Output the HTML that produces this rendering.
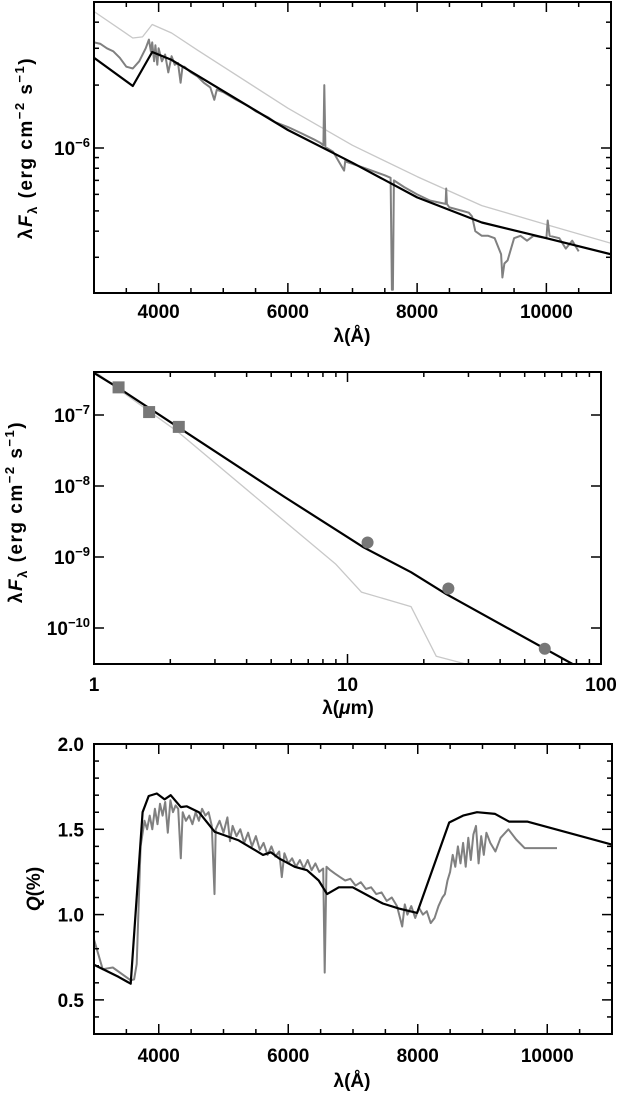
<!DOCTYPE html>
<html><head><meta charset="utf-8"><style>
body{margin:0;background:#fff;}
svg{display:block;font-family:"Liberation Sans",Arial,sans-serif;}
.tl{font-size:19px;font-weight:bold;}
.at{font-size:19px;font-weight:bold;}
</style></head><body>
<svg id="fig" width="618" height="1094" viewBox="0 0 618 1094"></svg>
<script>
// ---------- Panel 1 data (flux in units of 1e-6) ----------
const p1ModelWl=[3000,3600,3900,4200,6000,7000,8000,9000,10000,11000];
const p1ModelF=[2.7,1.98,2.88,2.64,1.22,0.85,0.58,0.44,0.37,0.31];
const p1UpperWl=[3000,3600,3750,3900,4200,4600,6000,7000,8000,9000,10000,11000];
const p1UpperF=[4.5,3.36,3.4,3.9,3.55,2.94,1.55,1.03,0.73,0.53,0.43,0.35];
const p1ObsWl=[3000,3100,3200,3300,3400,3500,3600,3700,3800,3850,3880,3900,3930,3950,3980,4000,4050,4100,4150,4200,4250,4300,4340,4370,4400,4500,4600,4700,4800,4861,4900,5000,5200,5400,5500,5700,5800,6000,6200,6400,6500,6550,6563,6580,6700,6870,6890,6900,7200,7500,7590,7610,7625,7640,7800,8000,8200,8440,8450,8460,8500,8700,8800,8850,8900,9000,9100,9200,9300,9320,9350,9400,9500,9600,9700,9800,10000,10020,10050,10200,10300,10400,10500];
const p1ObsF=[3.2,3.15,3.0,2.9,2.7,2.45,2.4,2.6,3.0,3.3,2.9,3.2,2.6,3.1,2.5,3.0,2.6,2.8,2.3,2.75,2.5,2.55,2.05,2.45,2.45,2.3,2.2,2.05,1.95,1.7,1.9,1.85,1.7,1.58,1.5,1.4,1.33,1.26,1.18,1.1,1.06,1.03,2.0,1.01,0.96,0.78,0.88,0.86,0.8,0.74,0.72,0.21,0.21,0.7,0.65,0.6,0.56,0.54,0.64,0.54,0.52,0.5,0.49,0.47,0.40,0.38,0.38,0.37,0.31,0.24,0.28,0.29,0.37,0.38,0.36,0.38,0.37,0.45,0.38,0.37,0.33,0.36,0.32];
// ---------- Panel 2 data ----------
const p2ModelLam=[1,1.25,2.14,5.65,11.56,17.8,24.5,77.3];
const p2ModelF=[3.9e-7,2.4e-7,6.8e-8,7.0e-9,1.37e-9,6.1e-10,3.0e-10,3.1e-11];
const p2StarLam=[1,1.25,2.14,9.0,11.35,17.8,22.4,29.4];
const p2StarF=[4.2e-7,2.3e-7,5.8e-8,7.9e-10,3.2e-10,2.0e-10,4.0e-11,3.1e-11];
const p2SqLam=[1.25,1.65,2.16];
const p2SqF=[2.45e-7,1.1e-7,6.8e-8];
const p2CircLam=[12,25,60];
const p2CircF=[1.6e-9,3.6e-10,5.1e-11];
// ---------- Panel 3 data (Q %) ----------
const p3ModelWl=[2980,3380,3567,3750,3845,3970,4090,4185,4340,4430,4620,4865,5235,5610,5730,5855,6100,6290,6470,6600,6780,6995,7460,7710,7990,8485,8700,8915,9195,9410,9690,11050];
const p3ModelQ=[0.71,0.635,0.595,1.6,1.695,1.71,1.675,1.70,1.63,1.635,1.6,1.485,1.435,1.35,1.365,1.33,1.28,1.26,1.2,1.12,1.16,1.16,1.065,1.035,1.01,1.54,1.58,1.6,1.59,1.545,1.545,1.405];
const p3ObsWl=[2980,3135,3290,3567,3620,3660,3720,3780,3820,3860,3900,3940,3980,4020,4060,4100,4140,4180,4220,4260,4300,4340,4370,4420,4470,4520,4570,4620,4670,4720,4770,4820,4861,4880,4940,5000,5060,5100,5140,5200,5260,5320,5380,5440,5500,5560,5620,5680,5740,5800,5860,5900,5940,6000,6060,6120,6180,6240,6300,6360,6420,6480,6540,6563,6590,6650,6720,6800,6880,6960,7040,7120,7200,7280,7360,7440,7520,7600,7680,7760,7800,7840,7900,7960,8020,8080,8140,8200,8260,8320,8380,8420,8460,8500,8540,8580,8620,8660,8700,8740,8780,8820,8860,8900,8940,8980,9020,9060,9120,9200,9280,9400,9520,9650,10150];
const p3ObsQ=[0.88,0.68,0.69,0.615,0.62,0.71,1.4,1.55,1.5,1.58,1.5,1.62,1.53,1.65,1.58,1.66,1.48,1.67,1.6,1.64,1.62,1.33,1.6,1.55,1.58,1.53,1.6,1.55,1.62,1.58,1.6,1.52,1.12,1.5,1.55,1.48,1.57,1.43,1.52,1.46,1.5,1.42,1.48,1.4,1.46,1.38,1.42,1.35,1.4,1.34,1.37,1.22,1.36,1.3,1.33,1.28,1.32,1.27,1.32,1.26,1.3,1.25,1.27,0.66,1.28,1.26,1.24,1.22,1.2,1.21,1.17,1.19,1.15,1.16,1.12,1.13,1.08,1.1,1.05,0.93,1.06,1.0,1.05,0.98,1.04,1.0,1.02,0.95,0.98,1.05,1.1,1.12,1.2,1.25,1.35,1.28,1.4,1.3,1.42,1.28,1.45,1.32,1.47,1.52,1.3,1.46,1.35,1.48,1.42,1.37,1.45,1.5,1.44,1.39,1.39];

const NS='http://www.w3.org/2000/svg';
const svg=document.getElementById('fig');
function mk(tag,attrs,parent){const e=document.createElementNS(NS,tag);for(const k in attrs)e.setAttribute(k,attrs[k]);(parent||svg).appendChild(e);return e;}

function panel(name){
  const g=mk('g',{});
  
  
  return g;
}
function line(g,xa,ya,xs,ys,color,w,name){
  let d='';
  for(let i=0;i<xa.length;i++){d+=(i?'L':'M')+xs(xa[i]).toFixed(1)+','+ys(ya[i]).toFixed(1);}
  const p=mk('path',{d:d,fill:'none',stroke:color,'stroke-width':w,'stroke-linejoin':'round'},g);
  
  
  return p;
}
function clip(id,L,T,R,B){const c=mk('clipPath',{id:id});mk('rect',{x:L,y:T,width:R-L,height:B-T},c);}
function tick(g,x1,y1,x2,y2){mk('line',{x1:x1,y1:y1,x2:x2,y2:y2,stroke:'#000','stroke-width':1.5},g);}
function text(g,x,y,s,cls,anchor,name){const t=mk('text',{x:x,y:y,'class':cls,'text-anchor':anchor||'middle'},g);t.innerHTML=s;return t;}
const YT='λ<tspan font-style="italic">F</tspan><tspan dy="5" font-size="13">λ</tspan><tspan dy="-5"> (erg cm</tspan><tspan dy="-8" font-size="13">−2</tspan><tspan dy="8"> s</tspan><tspan dy="-8" font-size="13">−1</tspan><tspan dy="8">)</tspan>';

// ===== Panel 1 =====
(function(){
  const L=94,R=611,T=2,B=293;
  const xs=v=>L+(v-3000)/8000*(R-L);
  const ys=v=>148-209*Math.log10(v);
  const g=panel('spectrum-panel');
  clip('c1',L,T,R,B);
  const d=mk('g',{'clip-path':'url(#c1)'},g);
  line(d,p1UpperWl,p1UpperF,xs,ys,'#c8c8c8',1.3,'unreddened-model-line');
  line(d,p1ObsWl,p1ObsF,xs,ys,'#808080',2,'observed-spectrum-line');
  line(d,p1ModelWl,p1ModelF,xs,ys,'#000',2.2,'model-flux-line');
  for(let v=3000;v<=11000;v+=500){const x=xs(v);const big=v%2000===0;tick(g,x,B,x,B-(big?10:5));tick(g,x,T,x,T+(big?10:5));}
  [4000,6000,8000,10000].forEach(v=>text(g,xs(v),318,v,'tl','middle','x-tick-label'));
  [0.2,0.3,0.4,0.5,0.6,0.7,0.8,0.9,1,2,3,4,5].forEach(v=>{const y=ys(v);if(y<T||y>B)return;const big=v===1;tick(g,L,y,L+(big?10:5),y);tick(g,R,y,R-(big?10:5),y);});
  text(g,L-4,155,'10<tspan dy="-8" font-size="13">−6</tspan>','tl','end','y-tick-label');
  mk('rect',{x:L,y:T,width:R-L,height:B-T,fill:'none',stroke:'#000','stroke-width':2},g);
  text(g,352,342,'λ(Å)','at','middle','x-axis-title');
  const yt=text(g,0,0,YT,'at','middle','y-axis-title');
  yt.setAttribute('letter-spacing','1.5');
  yt.setAttribute('transform','translate(32,148) rotate(-90)');
})();

// ===== Panel 2 =====
(function(){
  const L=94,R=601,T=372,B=664;
  const xs=v=>L+Math.log10(v)/2*(R-L);
  const ys=v=>415-71*(Math.log10(v)+7);
  const g=panel('sed-panel');
  clip('c2',L,T,R,B);
  const d=mk('g',{'clip-path':'url(#c2)'},g);
  line(d,p2StarLam,p2StarF,xs,ys,'#c8c8c8',1.3,'stellar-photosphere-line');
  line(d,p2ModelLam,p2ModelF,xs,ys,'#000',2.2,'sed-model-line');
  p2SqLam.forEach((v,i)=>{const r=mk('rect',{x:xs(v)-6,y:ys(p2SqF[i])-6,width:12,height:12,fill:'#777'},d);
    
    });
  p2CircLam.forEach((v,i)=>{const c=mk('circle',{cx:xs(v),cy:ys(p2CircF[i]),r:6,fill:'#777'},d);
    
    });
  for(let dec=0;dec<2;dec++)for(let m=1;m<=9;m++){const v=m*Math.pow(10,dec);const x=xs(v);const big=m===1;tick(g,x,B,x,B-(big?10:5));tick(g,x,T,x,T+(big?10:5));}
  tick(g,R,B,R,B-10);tick(g,R,T,R,T+10);
  [[1,'1'],[10,'10'],[100,'100']].forEach(a=>text(g,xs(a[0]),691,a[1],'tl','middle','x-tick-label'));
  [-7,-8,-9,-10].forEach(e=>{const y=ys(Math.pow(10,e));tick(g,L,y,L+10,y);tick(g,R,y,R-10,y);
    text(g,L-4,y+7,'10<tspan dy="-8" font-size="13">'+(e===-10?'−10':'−'+(-e))+'</tspan>','tl','end','y-tick-label');});
  mk('rect',{x:L,y:T,width:R-L,height:B-T,fill:'none',stroke:'#000','stroke-width':2},g);
  text(g,348,714,'λ(<tspan font-style="italic">μ</tspan>m)','at','middle','x-axis-title');
  const yt=text(g,0,0,YT,'at','middle','y-axis-title');
  yt.setAttribute('letter-spacing','1.5');
  yt.setAttribute('transform','translate(22,512) rotate(-90)');
})();

// ===== Panel 3 =====
(function(){
  const L=94,R=612,T=744,B=1034;
  const xs=v=>L+(v-3000)/8000*(R-L);
  const ys=v=>T+(2.0-v)/1.7*(B-T);
  const g=panel('polarization-panel');
  clip('c3',L,T,R,B);
  const d=mk('g',{'clip-path':'url(#c3)'},g);
  line(d,p3ObsWl,p3ObsQ,xs,ys,'#808080',2,'observed-polarization-line');
  line(d,p3ModelWl,p3ModelQ,xs,ys,'#000',2.2,'model-polarization-line');
  for(let v=3000;v<=11000;v+=500){const x=xs(v);const big=v%2000===0;tick(g,x,B,x,B-(big?10:5));tick(g,x,T,x,T+(big?10:5));}
  [4000,6000,8000,10000].forEach(v=>text(g,xs(v),1062,v,'tl','middle','x-tick-label'));
  for(let i=3;i<=20;i++){const v=i/10;const y=ys(v);const big=i%5===0;tick(g,L,y,L+(big?10:5),y);tick(g,R,y,R-(big?10:5),y);}
  [0.5,1.0,1.5,2.0].forEach(v=>text(g,L-10,ys(v)+7,v.toFixed(1),'tl','end','y-tick-label'));
  mk('rect',{x:L,y:T,width:R-L,height:B-T,fill:'none',stroke:'#000','stroke-width':2},g);
  text(g,352,1087,'λ(Å)','at','middle','x-axis-title');
  const yt=text(g,0,0,'<tspan font-style="italic">Q</tspan>(%)','at','middle','y-axis-title');
  yt.setAttribute('transform','translate(40,889) rotate(-90)');
})();
</script>
</body></html>
